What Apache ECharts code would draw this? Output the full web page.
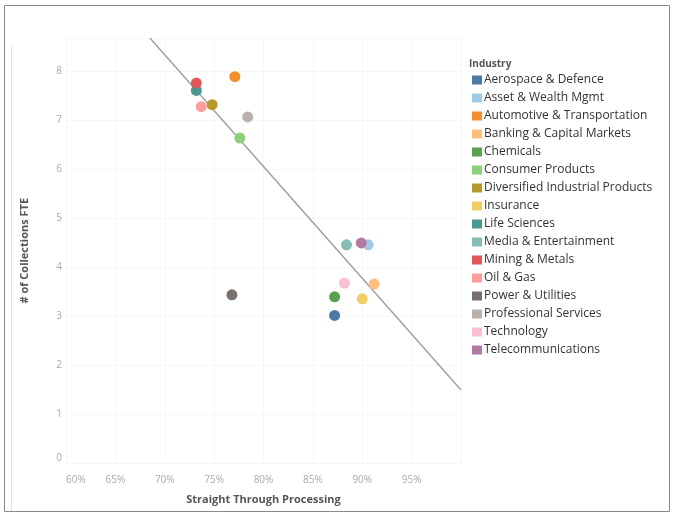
<!DOCTYPE html>
<html>
<head>
<meta charset="utf-8">
<script src="https://cdn.jsdelivr.net/npm/echarts@6/dist/echarts.min.js"></script>
<style>
html,body{margin:0;padding:0;background:#fff;}
#main{width:677px;height:527px;}
</style>
</head>
<body>
<div id="main"></div>
<script>
const industries = [
  'Aerospace & Defence','Asset & Wealth Mgmt','Automotive & Transportation','Banking & Capital Markets',
  'Chemicals','Consumer Products','Diversified Industrial Products','Insurance','Life Sciences',
  'Media & Entertainment','Mining & Metals','Oil & Gas','Power & Utilities','Professional Services',
  'Technology','Telecommunications'
];
const stpValues = [87.2, 90.6, 77.1, 91.2, 87.2, 77.6, 74.8, 90.0, 73.2, 88.4, 73.2, 73.7, 76.8, 78.4, 88.2, 89.9];
const fteValues = [3.02, 4.46, 7.89, 3.66, 3.40, 6.64, 7.32, 3.36, 7.61, 4.46, 7.76, 7.28, 3.44, 7.07, 3.68, 4.50];
const industryColors = [
  '#4e79a7','#a0cbe8','#f28e2b','#ffbe7d','#59a14f','#8cd17d','#b6992d','#f1ce63',
  '#499894','#86bcb6','#e15759','#ff9d9a','#79706e','#bab0ac','#fabfd2','#b07aa1'
];
const trendStp = [68.5, 100];
const trendFte = [8.68, 1.5];

const FONT = '"Open Sans", "Noto Sans", sans-serif';

const chart = echarts.init(document.getElementById('main'), null, {renderer: 'canvas'});

const series = industries.map((name, i) => ({
  name: name,
  type: 'scatter',
  symbol: 'circle',
  symbolSize: 11,
  itemStyle: {color: industryColors[i], opacity: 1},
  data: [[stpValues[i], fteValues[i]]],
  z: 3
}));
series.push({
  name: 'Trend',
  type: 'line',
  data: trendStp.map((x, i) => [x, trendFte[i]]),
  symbol: 'none',
  lineStyle: {color: '#a0a0a0', width: 1.5},
  silent: true,
  z: 2
});

chart.setOption({
  animation: false,
  color: industryColors,
  textStyle: {fontFamily: FONT},
  grid: {left: 66, right: 216, top: 38, bottom: 63.5, containLabel: false},
  graphic: [
    {type: 'rect', shape: {x: 4.5, y: 5.5, width: 665, height: 506}, style: {fill: 'none', stroke: '#8a8a8a', lineWidth: 1}, silent: true, z: -10},
    {type: 'line', shape: {x1: 11.5, y1: 45, x2: 11.5, y2: 511}, style: {stroke: '#e2e2e2', lineWidth: 1}, silent: true, z: -10},
    {type: 'text', left: 469, top: 59, style: {text: 'Industry', font: 'bold 10px ' + FONT, fill: '#555'}}
  ],
  legend: {
    data: industries,
    orient: 'vertical',
    left: 472,
    top: 73,
    padding: 0,
    itemWidth: 10,
    itemHeight: 9,
    itemGap: 4,
    icon: 'rect',
    textStyle: {fontFamily: FONT, fontSize: 12, color: '#333', lineHeight: 14, padding: [0, 0, 0, -3]},
    selectedMode: false
  },
  xAxis: {
    type: 'value',
    min: 60, max: 100, interval: 5,
    name: 'Straight Through Processing',
    nameLocation: 'middle',
    nameGap: 31,
    nameTextStyle: {fontFamily: FONT, fontSize: 11, fontWeight: 'bold', color: '#555'},
    axisLine: {show: false},
    axisTick: {show: false},
    axisLabel: {
      color: '#aaa', fontSize: 10, margin: 12,
      alignMinLabel: 'left',
      formatter: v => (v >= 100 ? '' : v + '%')
    },
    splitLine: {show: true, lineStyle: {color: '#f6f6f6', width: 1}}
  },
  yAxis: {
    type: 'value',
    min: 0, max: 8.68, interval: 1,
    name: '# of Collections FTE',
    nameLocation: 'middle',
    nameGap: 36,
    nameRotate: 90,
    nameTextStyle: {fontFamily: FONT, fontSize: 11, fontWeight: 'bold', color: '#555'},
    axisLine: {show: false},
    axisTick: {show: false},
    axisLabel: {
      color: '#aaa', fontSize: 10, margin: 4,
      verticalAlignMinLabel: 'bottom',
      formatter: v => (Number.isInteger(v) ? String(v) : '')
    },
    splitLine: {show: true, lineStyle: {color: '#f6f6f6', width: 1}}
  },
  series: series
});
</script>
</body>
</html>
